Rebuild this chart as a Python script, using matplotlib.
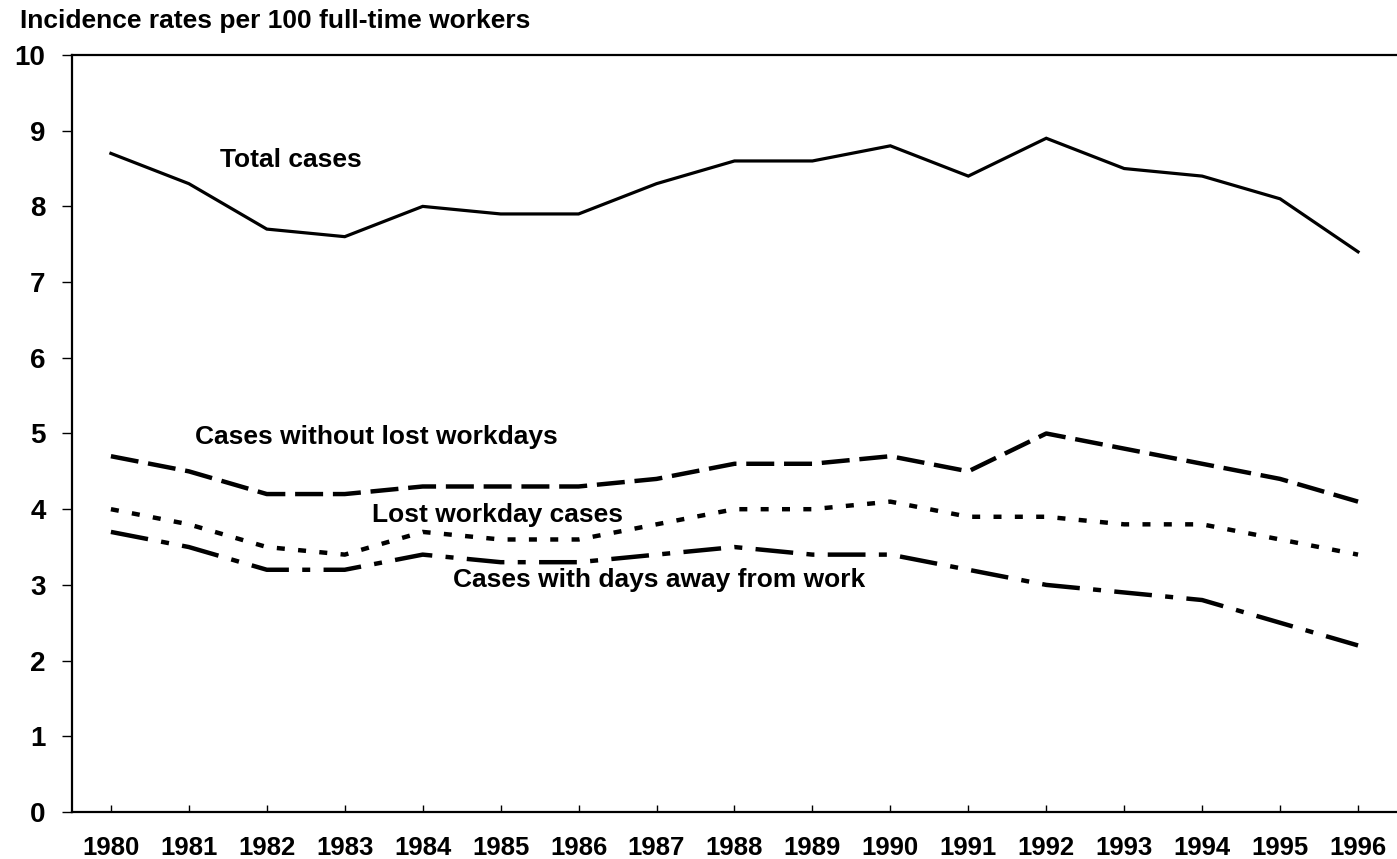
import matplotlib
matplotlib.use('Agg')
import matplotlib.pyplot as plt

# Incidence rates per 100 full-time workers, 1980-1996
years = ['1980', '1981', '1982', '1983', '1984', '1985', '1986', '1987', '1988',
         '1989', '1990', '1991', '1992', '1993', '1994', '1995', '1996']
total_cases = [8.7, 8.3, 7.7, 7.6, 8.0, 7.9, 7.9, 8.3, 8.6,
               8.6, 8.8, 8.4, 8.9, 8.5, 8.4, 8.1, 7.4]
without_lost = [4.7, 4.5, 4.2, 4.2, 4.3, 4.3, 4.3, 4.4, 4.6,
                4.6, 4.7, 4.5, 5.0, 4.8, 4.6, 4.4, 4.1]
lost_workday = [4.0, 3.8, 3.5, 3.4, 3.7, 3.6, 3.6, 3.8, 4.0,
                4.0, 4.1, 3.9, 3.9, 3.8, 3.8, 3.6, 3.4]
days_away = [3.7, 3.5, 3.2, 3.2, 3.4, 3.3, 3.3, 3.4, 3.5,
             3.4, 3.4, 3.2, 3.0, 2.9, 2.8, 2.5, 2.2]

plt.rcParams['font.family'] = ['Liberation Sans', 'DejaVu Sans']
plt.rcParams['font.weight'] = 'bold'

fig = plt.figure(figsize=(13.97, 8.59), dpi=100)
ax = fig.add_axes([0.0515, 0.0547, 0.9485, 0.8813])

x = range(len(years))
ax.plot(x, total_cases, color='black', lw=2.3, solid_joinstyle='miter')
ax.plot(x, without_lost, color='black', lw=3.2, dashes=(6.3, 2.2))
ax.plot(x, lost_workday, color='black', lw=3.2, dashes=(1.8, 3.0))
ax.plot(x, days_away, color='black', lw=3.2, dashes=(8.5, 3.0, 1.8, 3.0))

# series labels
lab = dict(fontsize=19, fontweight='bold', va='center', ha='left')
ax.text(1.40, 8.61, 'Total cases', **lab)
ax.text(1.08, 4.95, 'Cases without lost workdays', **lab)
ax.text(3.35, 3.92, 'Lost workday cases', **lab)
ax.text(4.39, 3.06, 'Cases with days away from work', **lab)

ax.set_xlim(-0.5, 16.5)
ax.set_ylim(0, 10)
ax.set_xticks(list(x))
ax.set_xticklabels(years)
ax.set_yticks(range(0, 11))

ax.spines['right'].set_visible(False)
for s in ['left', 'bottom', 'top']:
    ax.spines[s].set_linewidth(1.6)

ax.tick_params(axis='x', direction='in', length=5, width=1, labelsize=18.5, pad=17)
ax.tick_params(axis='y', direction='out', length=7, width=1, labelsize=20, pad=12)
for t in ax.get_xticklabels() + ax.get_yticklabels():
    t.set_fontweight('bold')

fig.text(0.014, 0.976, 'Incidence rates per 100 full-time workers', fontsize=19,
         fontweight='bold', ha='left', va='center')

fig.savefig('out.png', dpi=100)
